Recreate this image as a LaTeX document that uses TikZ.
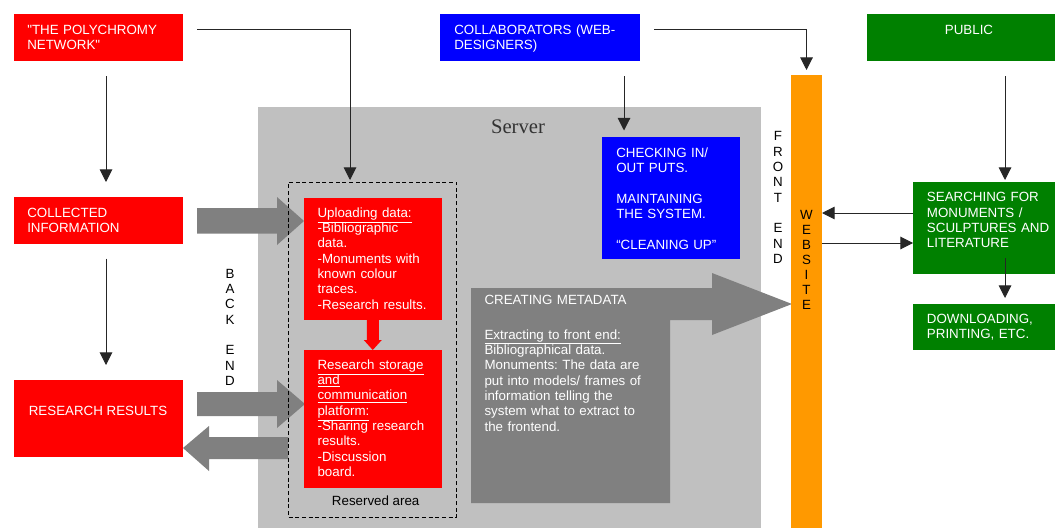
\documentclass[tikz,border=0pt]{standalone}
\usepackage{fontspec}
\newfontfamily\sansfnt{Liberation Sans}
\newfontfamily\seriffnt{Liberation Serif}
\usetikzlibrary{arrows.meta}
\definecolor{srvgray}{HTML}{C0C0C0}
\definecolor{blkgray}{HTML}{808080}
\definecolor{webor}{HTML}{FF9900}
\definecolor{pgreen}{HTML}{008000}
\definecolor{pblue}{HTML}{0000FF}
\definecolor{pred}{HTML}{FF0000}
\frenchspacing

\begin{document}
\begin{tikzpicture}[x=0.75pt,y=-0.75pt,
  box/.style={anchor=north west,inner sep=0pt,outer sep=0pt},
  boxw/.style={minimum width=#1*0.75pt},
  boxh/.style={minimum height=#1*0.75pt},
  txt/.style={anchor=base west,inner sep=0pt,text width=135pt,align=left,color=white,font=\sansfnt\fontsize{10}{11.5}\selectfont},
  ctxt/.style={anchor=base,inner sep=0pt,font=\sansfnt\fontsize{10}{11.5}\selectfont},
  vlet/.style={anchor=base,inner sep=0pt,text width=12pt,align=center,font=\sansfnt\fontsize{10}{11.5}\selectfont},
  conn/.style={draw=black!85,line width=0.75pt,->},
  >={Triangle[length=9.4pt,width=9.4pt]}]
\useasboundingbox (0,0) rectangle (1055,528);

\node (server) at (258,106.5) [box,fill=srvgray,boxw=503,boxh=421.5]{};
\node (serverT) at (518,133.3) [anchor=base,inner sep=0pt,color=black!80,font=\seriffnt\fontsize{15.5}{18}\selectfont]{Server};

\fill[blkgray] (197,208) -- (277,208) -- (277,197) -- (304,221) -- (277,245) -- (277,233.5) -- (197,233.5) -- cycle;
\fill[blkgray] (197,392) -- (277,392) -- (277,380) -- (305,404) -- (277,428) -- (277,416) -- (197,416) -- cycle;
\fill[blkgray] (288,437) -- (209,437) -- (209,426) -- (183,448) -- (209,471) -- (209,459) -- (288,459) -- cycle;
\fill[blkgray] (471,288) -- (712,288) -- (712,273) -- (792,304) -- (712,335) -- (712,320) -- (670,320) -- (670,503) -- (471,503) -- cycle;

\node (reserved) at (288.5,182) [box,draw=black,line width=0.75pt,dash pattern=on 3pt off 2pt,boxw=168,boxh=335]{};
\node (reservedT) at (375.7,505.7) [ctxt]{Reserved area};

\node (poly) at (14,14) [box,fill=pred,boxw=169,boxh=47]{};
\node (coll) at (14,197) [box,fill=pred,boxw=169,boxh=46.5]{};
\node (res) at (14,380) [box,fill=pred,boxw=169,boxh=77]{};
\node (collab) at (440,14) [box,fill=pblue,boxw=200,boxh=47]{};
\node (public) at (867,14) [box,fill=pgreen,boxw=188,boxh=47]{};
\node (check) at (601.5,137) [box,fill=pblue,boxw=138.5,boxh=122]{};
\node (search) at (913,182) [box,fill=pgreen,boxw=142,boxh=92]{};
\node (down) at (913,304) [box,fill=pgreen,boxw=142,boxh=46]{};
\node (web) at (791,75) [box,fill=webor,boxw=31,boxh=453]{};
\node (upload) at (303.5,197.5) [box,fill=pred,boxw=138.5,boxh=122.5]{};
\node (store) at (303.5,350) [box,fill=pred,boxw=138.5,boxh=137.5]{};

\fill[pred] (upload.south) ++(-6,0) -- ++(12,0) -- ++(0,20) -- ++(3,0) -- (store.north) -- ++(-9,-10) -- ++(3,0) -- cycle;

\node (polyT) at (27,34.3) [txt]{"THE POLYCHROMY\\NETWORK"};
\node (collT) at (27,217.3) [txt]{COLLECTED\\INFORMATION};
\node (resT) at (98,415) [ctxt,color=white]{RESEARCH RESULTS};
\node (collabT) at (454,34.3) [txt]{COLLABORATORS (WEB-\\DESIGNERS)};
\node (publicT) at (969,34.3) [ctxt,color=white]{PUBLIC};
\node (checkT) at (616,157) [txt]{CHECKING IN/\\OUT PUTS.\\[11.5pt]MAINTAINING\\THE SYSTEM.\\[11.5pt]“CLEANING UP”};
\node (searchT) at (926.7,201.7) [txt]{SEARCHING FOR\\MONUMENTS /\\SCULPTURES AND\\LITERATURE};
\node (downT) at (926.7,323.3) [txt]{DOWNLOADING,\\PRINTING, ETC.};
\node (uploadT) at (317.3,217.3) [txt]{\underline{Uploading data:}\\-Bibliographic\\data.\\-Monuments with\\known colour\\traces.\\-Research results.};
\node (storeT) at (317.3,369.3) [txt]{\underline{Research storage}\\\underline{and}\\\underline{communication}\\\underline{platform:}\\-Sharing research\\results.\\-Discussion\\board.};
\node (metaT) at (484.3,304) [txt]{CREATING METADATA\\[14.75pt]\underline{Extracting to front end:}\\Bibliographical data.\\Monuments: The data are\\put into models/ frames of\\information telling the\\system what to extract to\\the frontend.};

\node (backT) at (230,278) [vlet]{B\\A\\C\\K\\~\\E\\N\\D};
\node (frontT) at (778,140.7) [vlet]{F\\R\\O\\N\\T\\~\\E\\N\\D};
\node (webT) at (806.5,219.7) [vlet,font=\sansfnt\fontsize{10}{11.25}\selectfont]{W\\E\\B\\S\\I\\T\\E};

\draw[conn] ([shift={(14,16)}]poly.north east) -| ([shift={(-22.5,-2)}]reserved.north);
\draw[conn] ([shift={(7.5,15)}]poly.south) -- ([shift={(7.5,-15)}]coll.north);
\draw[conn] ([shift={(7.5,15)}]coll.south) -- ([shift={(7.5,-15)}]res.north);
\draw[conn] ([shift={(84,15)}]collab.south) -- ([shift={(22.5,-6.5)}]check.north west);
\draw[conn] ([shift={(14,16)}]collab.north east) -| ([shift={(0,-5)}]web.north);
\draw[conn] ([shift={(44,15)}]public.south) -- ([shift={(21,-2)}]search.north);
\draw[conn] ([shift={(21,-16)}]search.south) -- ([shift={(21,-6)}]down.north);
\draw[conn] ([shift={(0,-15)}]search.west) -- ([shift={(0,-15)}]search.west -| web.east);
\draw[conn] ([shift={(0,15)}]search.west -| web.east) -- ([shift={(0,15)}]search.west);
\end{tikzpicture}
\end{document}
